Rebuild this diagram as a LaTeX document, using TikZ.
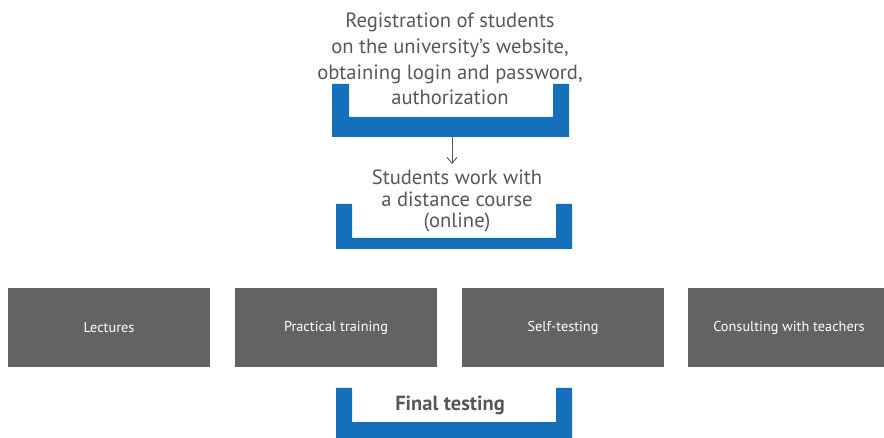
\documentclass[tikz,border=0pt]{standalone}
\usepackage{fontspec}
\setmainfont{PT Sans}
\usetikzlibrary{arrows.meta}
\definecolor{bblue}{HTML}{1470BA}
\definecolor{bgray}{HTML}{636265}
\definecolor{tgray}{HTML}{58585A}
\begin{document}
\begin{tikzpicture}[x=1pt,y=-1pt,
  bracketfill/.style={fill=bblue,draw=none},
  graybox/.style={fill=bgray,draw=none,text=white,font=\fontsize{14.3}{17}\selectfont,minimum width=202pt,minimum height=79pt,inner sep=0pt},
  steptext/.style={text=tgray,align=center,font=\fontsize{20.6}{25.7}\selectfont,inner sep=0pt},
  flowarrow/.style={draw=tgray,line width=0.9pt,-{Straight Barb[length=6pt,width=10pt,line width=0.9pt]}}]
\clip (0,0) rectangle (884,438);
\useasboundingbox (0,0) rectangle (884,438);
% bracket 1
\fill[bracketfill] (332,84) -- (349,84) -- (349,117) -- (553,117) -- (553,84) -- (569,84) -- (569,137) -- (332,137) -- cycle;
\node[steptext] (t1) at (450,59) {Registration of students\\on the university’s website,\\obtaining login and password,\\authorization};
\coordinate (b1) at (452,137);
% bracket 2
\fill[bracketfill] (336,204) -- (352,204) -- (352,238) -- (556,238) -- (556,204) -- (572,204) -- (572,249) -- (336,249) -- cycle;
\node[steptext,font=\fontsize{20.6}{21.5}\selectfont] (t2) at (457,201) {Students work with\\a distance course\\(online)};
\coordinate (a2) at (452,164);
\draw[flowarrow] (b1) -- (a2);
% gray boxes
\node[graybox] (l1) at (109,327.5) {Lectures};
\node[graybox] (l2) at (336,327.5) {Practical training};
\node[graybox] (l3) at (563,327.5) {Self-testing};
\node[graybox] (l4) at (789,327.5) {Consulting with teachers};
% bracket 3
\fill[bracketfill] (336,388) -- (352,388) -- (352,422) -- (556,422) -- (556,388) -- (572,388) -- (572,438) -- (336,438) -- cycle;
\node[text=tgray,font=\bfseries\fontsize{20.5}{24}\selectfont,inner sep=0pt] (t3) at (450,405) {Final testing};
\end{tikzpicture}
\end{document}
